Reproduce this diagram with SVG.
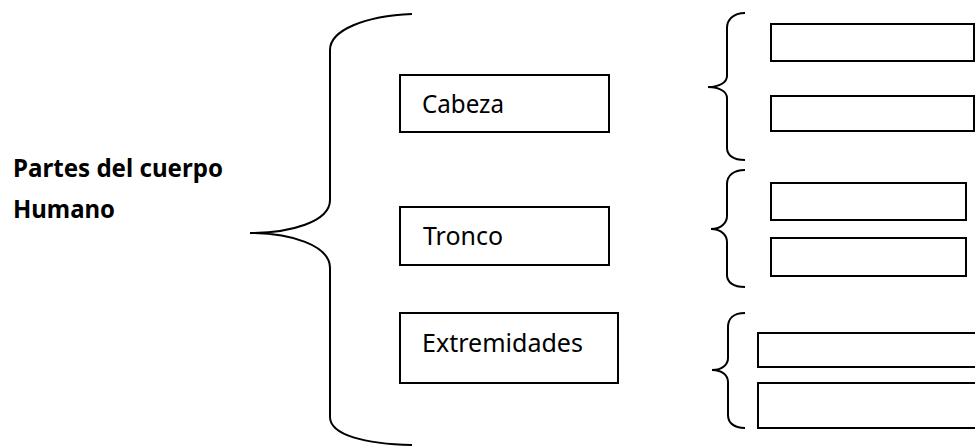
<svg xmlns="http://www.w3.org/2000/svg" width="975" height="447" viewBox="0 0 975 447">
<style>
.box{fill:#fff;stroke:#000;stroke-width:2}
.br{fill:none;stroke:#000;stroke-width:2}
.lbl{font-family:"Noto Sans","Liberation Sans",sans-serif;font-size:25px;fill:#000}
.title{font-family:"Noto Sans","Liberation Sans",sans-serif;font-size:25px;font-weight:bold;fill:#000}
</style>
<rect width="975" height="447" fill="#fff"/>
<g id="title">
<text class="title" x="13" y="177" textLength="210" lengthAdjust="spacingAndGlyphs">Partes del cuerpo</text>
<text class="title" x="13" y="218" textLength="102" lengthAdjust="spacingAndGlyphs">Humano</text>
</g>
<g id="connectors">
<path class="br" d="M412,14 C365,16 330,30 330,50 L330,200 C330,222 290,233 250,233 C290,233 330,245 330,268 L330,417 C330,435 365,444 412,445"/>
<path class="br" d="M745,13 C733,13 727,20 727,28 L727,76 C727,82 720,87 708,87 C720,87 727,92 727,98 L727,148 C727,155 733,160 745,160"/>
<path class="br" d="M745,170 C733,170 727,176 727,184 L727,216 C727,222 722,229 711,229 C722,229 727,236 727,242 L727,275 C727,282 733,287 745,287"/>
<path class="br" d="M745,313 C733,313 728,319 728,327 L728,358 C728,364 723,370 712,370 C723,370 728,376 728,382 L728,415 C728,422 733,428 745,428"/>
</g>
<g id="cabeza">
<rect class="box" x="400" y="75" width="209" height="57"/>
<text class="lbl" x="422" y="113" textLength="82" lengthAdjust="spacingAndGlyphs">Cabeza</text>
</g>
<g id="tronco">
<rect class="box" x="400" y="207" width="209" height="58"/>
<text class="lbl" x="423" y="245" textLength="80" lengthAdjust="spacingAndGlyphs">Tronco</text>
</g>
<g id="extremidades">
<rect class="box" x="400" y="313" width="218" height="70"/>
<text class="lbl" x="422" y="352" textLength="161" lengthAdjust="spacingAndGlyphs">Extremidades</text>
</g>
<g id="cabeza-1"><rect class="box" x="771" y="24" width="203" height="37"/></g>
<g id="cabeza-2"><rect class="box" x="771" y="96" width="203" height="35"/></g>
<g id="tronco-1"><rect class="box" x="771" y="183" width="195" height="37"/></g>
<g id="tronco-2"><rect class="box" x="771" y="238" width="195" height="38"/></g>
<g id="extremidades-1"><rect class="box" x="758" y="333" width="218" height="34"/></g>
<g id="extremidades-2"><rect class="box" x="758" y="383" width="218" height="45"/></g>
</svg>
